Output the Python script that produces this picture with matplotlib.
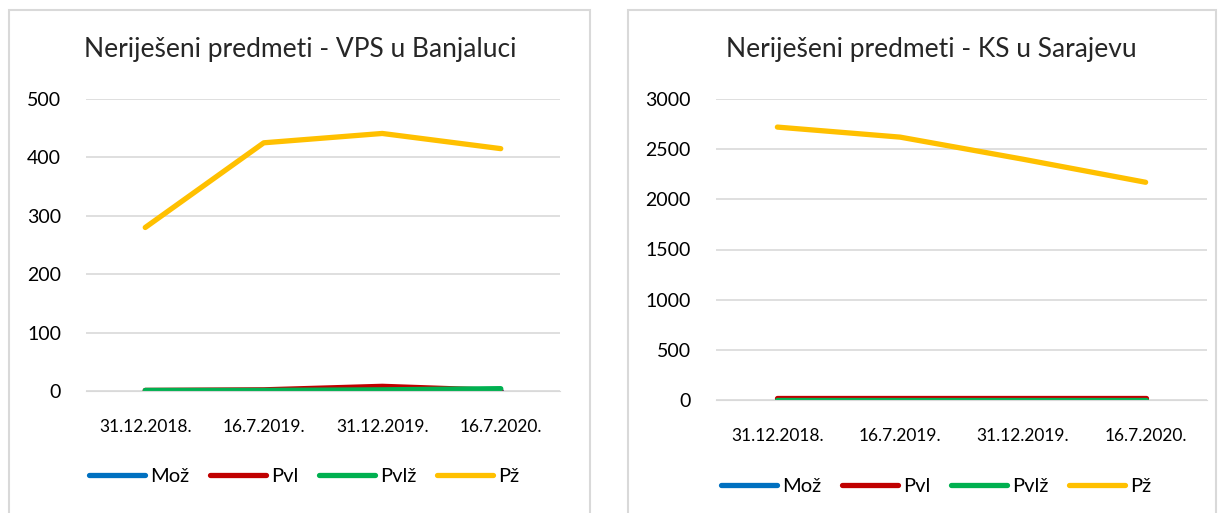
import matplotlib
matplotlib.use("Agg")
import matplotlib.pyplot as plt
from matplotlib.patches import Rectangle

plt.rcParams['font.family'] = ['Lato', 'DejaVu Sans']

# data
dates = ['31.12.2018.', '16.7.2019.', '31.12.2019.', '16.7.2020.']
series = ['Mož', 'Pvl', 'Pvlž', 'Pž']
colors = ['#0070C0', '#C00000', '#00B050', '#FFC000']

bl_moz = [0, 0, 0, 0]
bl_pvl = [1, 2, 8, 1]
bl_pvlz = [1, 1, 2, 4]
bl_pz = [280, 425, 441, 415]

sa_moz = [0, 0, 0, 0]
sa_pvl = [20, 20, 20, 20]
sa_pvlz = [4, 4, 4, 4]
sa_pz = [2720, 2620, 2400, 2170]

W, H = 1223, 513
fig = plt.figure(figsize=(W / 100, H / 100), dpi=100)


def px_axes(x0, y0, x1, y1):
    # pixel box (top-left origin) -> figure axes
    return fig.add_axes([x0 / W, 1 - y1 / H, (x1 - x0) / W, (y1 - y0) / H])


def panel(x0, x1):
    fig.patches.append(Rectangle((x0 / W, -0.05), (x1 - x0) / W, 1 - 10 / H + 0.05,
                                 transform=fig.transFigure, fill=False,
                                 edgecolor='#d9d9d9', linewidth=1.5))


def draw(ax, title, values, ymax, step, title_x, leg_x, leg_y, xpad):
    for name, vals, c in zip(series, values, colors):
        ax.plot(range(len(dates)), vals, color=c, linewidth=3.8, label=name,
                solid_capstyle='round')
    ax.set_xlim(-0.5, len(dates) - 0.5)
    ax.set_ylim(0, ymax)
    ax.set_yticks(range(0, ymax + 1, step))
    ax.set_xticks(range(len(dates)))
    ax.set_xticklabels(dates, fontsize=12.5)
    ax.tick_params(axis='y', labelsize=14, length=0, pad=18)
    ax.tick_params(axis='x', length=0, pad=xpad)
    ax.grid(axis='y', color='#d9d9d9', linewidth=1.2)
    ax.set_axisbelow(True)
    for s in ax.spines.values():
        s.set_visible(False)
    ax.spines['bottom'].set_visible(True)
    ax.spines['bottom'].set_color('#d9d9d9')
    fig.text(title_x / W, 1 - 50 / H, title, fontsize=19, color='#262626',
             ha='center', va='center')
    fig.legend(handles=ax.get_lines(), loc='center',
               bbox_to_anchor=(leg_x / W, 1 - leg_y / H), ncol=4, frameon=False,
               fontsize=14.5, handlelength=2.8, columnspacing=1.0, handletextpad=0.25)


panel(9, 590)
panel(628, 1216)

ax1 = px_axes(86, 99, 560, 391)
draw(ax1, 'Neriješeni predmeti - VPS u Banjaluci', [bl_moz, bl_pvl, bl_pvlz, bl_pz],
     500, 100, 300, 304, 476, 20)

ax2 = px_axes(716, 99, 1207, 400)
draw(ax2, 'Neriješeni predmeti - KS u Sarajevu', [sa_moz, sa_pvl, sa_pvlz, sa_pz],
     3000, 500, 931, 936, 486, 20)

fig.savefig('out.png', dpi=100)
